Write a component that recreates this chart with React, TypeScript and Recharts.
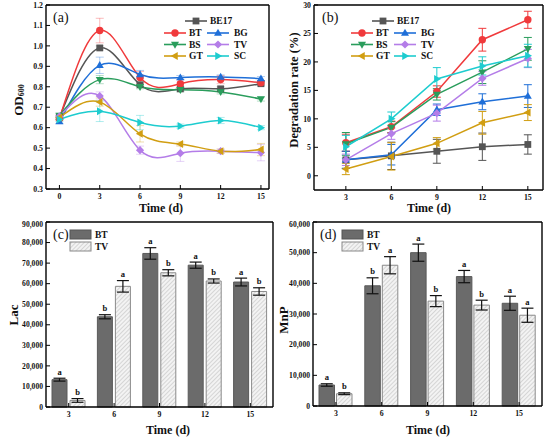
import {
  LineChart,
  Line,
  BarChart,
  Bar,
  XAxis,
  YAxis,
  ErrorBar,
  Label,
  LabelList,
} from "recharts";

const FONT = '"Liberation Serif", "Times New Roman", serif';

// (a) growth, OD600
const odDays = [0, 3, 6, 9, 12, 15];
const odBE17 = [0.65, 0.99, 0.81, 0.79, 0.79, 0.815];
const odBT = [0.645, 1.075, 0.845, 0.815, 0.835, 0.82];
const odBG = [0.63, 0.905, 0.86, 0.845, 0.848, 0.84];
const odBS = [0.66, 0.835, 0.8, 0.785, 0.775, 0.74];
const odTV = [0.655, 0.755, 0.49, 0.475, 0.485, 0.478];
const odGT = [0.65, 0.725, 0.57, 0.52, 0.485, 0.493];
const odSC = [0.64, 0.68, 0.625, 0.608, 0.635, 0.6];
const odBE17Err = [0.01, 0.01, 0.01, 0.01, 0.01, 0.01];
const odBTErr = [0.01, 0.06, 0.03, 0.02, 0.02, 0.01];
const odBGErr = [0.01, 0.04, 0.02, 0.01, 0.01, 0.01];
const odBSErr = [0.01, 0.02, 0.01, 0.01, 0.01, 0.01];
const odTVErr = [0.01, 0.02, 0.02, 0.04, 0.01, 0.04];
const odGTErr = [0.01, 0.02, 0.04, 0.01, 0.01, 0.03];
const odSCErr = [0.01, 0.05, 0.035, 0.01, 0.015, 0.01];
const odTicks = [0.3, 0.4, 0.5, 0.6, 0.7, 0.8, 0.9, 1.0, 1.1, 1.2];

// (b) degradation rate, %
const degDays = [3, 6, 9, 12, 15];
const degBE17 = [2.8, 3.5, 4.3, 5.1, 5.5];
const degBT = [5.8, 8.6, 14.8, 23.9, 27.4];
const degBG = [2.8, 3.7, 11.6, 13.0, 14.0];
const degBS = [5.6, 8.5, 14.3, 18.2, 22.3];
const degTV = [2.8, 7.4, 11.0, 17.1, 20.6];
const degGT = [1.2, 3.4, 5.7, 9.3, 11.1];
const degSC = [5.1, 10.0, 17.0, 19.3, 21.1];
const degBE17Err = [1.5, 2.4, 2.1, 2.4, 1.7];
const degBTErr = [1.5, 1.0, 1.0, 2.0, 1.5];
const degBGErr = [1.5, 1.8, 1.0, 1.4, 2.0];
const degBSErr = [2.0, 1.0, 1.0, 2.0, 2.0];
const degTVErr = [1.0, 1.0, 1.4, 1.2, 1.6];
const degGTErr = [1.0, 2.4, 1.0, 2.0, 1.4];
const degSCErr = [2.0, 1.2, 2.0, 1.6, 2.0];
const degTicks = [0, 5, 10, 15, 20, 25, 30];

// (c) Lac and (d) MnP activity
const enzDays = ["3", "6", "9", "12", "15"];
const lacBT = [13300, 43900, 74700, 69000, 60800];
const lacBTErr = [700, 1000, 2800, 1500, 1900];
const lacTV = [3200, 58700, 65300, 61300, 56200];
const lacTVErr = [900, 2800, 1500, 1000, 1800];
const lacBTSig = ["a", "b", "a", "a", "a"];
const lacTVSig = ["b", "a", "b", "b", "b"];
const lacTicks = [0, 10000, 20000, 30000, 40000, 50000, 60000, 70000, 80000, 90000];

const mnpBT = [6850, 39200, 50000, 42200, 33500];
const mnpBTErr = [400, 2600, 2800, 2000, 2300];
const mnpTV = [4000, 45900, 34200, 32900, 29600];
const mnpTVErr = [300, 2800, 1800, 1600, 2300];
const mnpBTSig = ["a", "b", "a", "a", "a"];
const mnpTVSig = ["b", "a", "b", "b", "a"];
const mnpTicks = [0, 10000, 20000, 30000, 40000, 50000, 60000];

const strains = [
  { key: "BE17", color: "#555555", shape: "square" },
  { key: "BT", color: "#f03a3c", shape: "circle" },
  { key: "BG", color: "#1f6fd8", shape: "up" },
  { key: "BS", color: "#2a9d5c", shape: "down" },
  { key: "TV", color: "#b47de8", shape: "diamond" },
  { key: "GT", color: "#d19e12", shape: "left" },
  { key: "SC", color: "#1dcccf", shape: "right" },
];

const odLookup: Record<string, number[][]> = {
  BE17: [odBE17, odBE17Err],
  BT: [odBT, odBTErr],
  BG: [odBG, odBGErr],
  BS: [odBS, odBSErr],
  TV: [odTV, odTVErr],
  GT: [odGT, odGTErr],
  SC: [odSC, odSCErr],
};
const degLookup: Record<string, number[][]> = {
  BE17: [degBE17, degBE17Err],
  BT: [degBT, degBTErr],
  BG: [degBG, degBGErr],
  BS: [degBS, degBSErr],
  TV: [degTV, degTVErr],
  GT: [degGT, degGTErr],
  SC: [degSC, degSCErr],
};

function buildRows(days: number[], lookup: Record<string, number[][]>) {
  return days.map((d, i) => {
    const row: Record<string, number> = { day: d };
    Object.keys(lookup).forEach((k) => {
      row[k] = lookup[k][0][i];
      row[k + "_e"] = lookup[k][1][i];
    });
    return row;
  });
}

const odRows = buildRows(odDays, odLookup);
const degRows = buildRows(degDays, degLookup);

const lacRows = enzDays.map((d, i) => ({
  day: d,
  bt: lacBT[i],
  btErr: lacBTErr[i],
  btSig: lacBTSig[i],
  tv: lacTV[i],
  tvErr: lacTVErr[i],
  tvSig: lacTVSig[i],
}));
const mnpRows = enzDays.map((d, i) => ({
  day: d,
  bt: mnpBT[i],
  btErr: mnpBTErr[i],
  btSig: mnpBTSig[i],
  tv: mnpTV[i],
  tvErr: mnpTVErr[i],
  tvSig: mnpTVSig[i],
}));

const tickStyle = { fontFamily: FONT, fontSize: 7.8, fontWeight: "bold", fill: "#111" };
const axisLine = { stroke: "#000", strokeWidth: 1.4 };
const tickLine = { stroke: "#000", strokeWidth: 1 };
const titleStyle = { fontFamily: FONT, fontSize: 12, fontWeight: "bold", fill: "#111" };

function Marker({ cx, cy, shape, color }: any) {
  const s = 3.4;
  switch (shape) {
    case "square":
      return <rect x={cx - s} y={cy - s} width={2 * s} height={2 * s} fill={color} />;
    case "circle":
      return <circle cx={cx} cy={cy} r={s + 0.3} fill={color} />;
    case "up":
      return <polygon points={`${cx},${cy - s - 0.8} ${cx + s + 0.6},${cy + s * 0.8} ${cx - s - 0.6},${cy + s * 0.8}`} fill={color} />;
    case "down":
      return <polygon points={`${cx},${cy + s + 0.8} ${cx + s + 0.6},${cy - s * 0.8} ${cx - s - 0.6},${cy - s * 0.8}`} fill={color} />;
    case "left":
      return <polygon points={`${cx - s - 0.8},${cy} ${cx + s * 0.8},${cy - s - 0.6} ${cx + s * 0.8},${cy + s + 0.6}`} fill={color} />;
    case "right":
      return <polygon points={`${cx + s + 0.8},${cy} ${cx - s * 0.8},${cy - s - 0.6} ${cx - s * 0.8},${cy + s + 0.6}`} fill={color} />;
    default:
      return <polygon points={`${cx},${cy - s - 0.7} ${cx + s + 0.7},${cy} ${cx},${cy + s + 0.7} ${cx - s - 0.7},${cy}`} fill={color} />;
  }
}

const overlay: React.CSSProperties = { position: "absolute", left: 0, top: 0, pointerEvents: "none" };

// legend for the line panels; x positions are relative to the panel
function StrainLegend({ tag, tagX, x0 }: { tag: string; tagX: number; x0: number }) {
  const rows = [21, 33, 44.5, 56];
  const item = (s: any, lx: number, y: number, tx: number) => (
    <g key={s.key}>
      <line x1={lx} x2={lx + 22} y1={y} y2={y} stroke={s.color} strokeWidth={1.6} />
      <Marker cx={lx + 11} cy={y} shape={s.shape} color={s.color} />
      <text x={tx} y={y} dominantBaseline="central" style={{ ...titleStyle, fontSize: 9.5 }}>
        {s.key}
      </text>
    </g>
  );
  return (
    <svg width={275} height={70} style={overlay}>
      <text x={tagX} y={22} style={{ fontFamily: FONT, fontSize: 14, fill: "#111" }}>
        {tag}
      </text>
      {item(strains[0], x0 + 21, rows[0], x0 + 46)}
      {item(strains[1], x0, rows[1], x0 + 25)}
      {item(strains[2], x0 + 43, rows[1], x0 + 70)}
      {item(strains[3], x0, rows[2], x0 + 25)}
      {item(strains[4], x0 + 43, rows[2], x0 + 70)}
      {item(strains[5], x0, rows[3], x0 + 25)}
      {item(strains[6], x0 + 43, rows[3], x0 + 70)}
    </svg>
  );
}

function BarLegend({ tag, tagX, x0, hatch }: { tag: string; tagX: number; x0: number; hatch: string }) {
  return (
    <svg width={275} height={40} style={overlay}>
      <defs>
        <pattern id={hatch + "L"} width="3" height="3" patternUnits="userSpaceOnUse" patternTransform="rotate(45)">
          <rect width="3" height="3" fill="#f3f3f3" />
          <line x1="0" y1="0" x2="0" y2="3" stroke="#b8b8b8" strokeWidth="1" />
        </pattern>
      </defs>
      <text x={tagX} y={19} style={{ fontFamily: FONT, fontSize: 14, fill: "#111" }}>
        {tag}
      </text>
      <rect x={x0} y={10} width={21} height={9} fill="#6b6b6b" stroke="#555" />
      <rect x={x0} y={22} width={21} height={9} fill={`url(#${hatch}L)`} stroke="#888" />
      <text x={x0 + 25} y={15} dominantBaseline="central" style={{ ...titleStyle, fontSize: 9.5 }}>
        BT
      </text>
      <text x={x0 + 25} y={27} dominantBaseline="central" style={{ ...titleStyle, fontSize: 9.5 }}>
        TV
      </text>
    </svg>
  );
}

const sigLabel = (vals: number[], errs: number[]) => (props: any) => {
  const vb = props.viewBox || {};
  const x = props.x ?? vb.x;
  const y = props.y ?? vb.y;
  const width = props.width ?? vb.width;
  const height = props.height ?? vb.height;
  const i = props.index;
  if (x == null || y == null || i == null) return null;
  const top = y - (errs[i] * height) / vals[i];
  return (
    <text x={x + width / 2} y={top - 3.5} textAnchor="middle" style={{ ...titleStyle, fontSize: 8.5 }}>
      {props.value}
    </text>
  );
};

function ODPanel() {
  return (
    <div style={{ position: "relative", width: 275, height: 220 }}>
      <LineChart width={275} height={220} data={odRows} margin={{ top: 4, right: 5, bottom: 0, left: 0 }}>
        <XAxis
          dataKey="day"
          type="number"
          domain={[-1, 15.6]}
          ticks={odDays}
          allowDataOverflow
          height={31}
          tickSize={-4}
          tickMargin={8}
          tick={tickStyle}
          axisLine={axisLine}
          tickLine={tickLine}
        >
          <Label content={() => <text x={161} y={212} textAnchor="middle" style={titleStyle}>Time (d)</text>} />
        </XAxis>
        <XAxis xAxisId="top" orientation="top" dataKey="day" type="number" domain={[-1, 15.6]} allowDataOverflow height={1} tick={false} tickLine={false} axisLine={axisLine} />
        <YAxis
          type="number"
          domain={[0.3, 1.2]}
          ticks={odTicks}
          allowDataOverflow
          width={46}
          tickSize={-4}
          tickMargin={7}
          tick={tickStyle}
          tickFormatter={(v: number) => v.toFixed(1)}
          axisLine={axisLine}
          tickLine={tickLine}
        >
          <Label
            content={() => (
              <text x={18} y={100} transform="rotate(-90, 18, 100)" textAnchor="middle" dominantBaseline="central" style={{ ...titleStyle, fontSize: 13 }}>
                OD<tspan fontSize={8} dy={3}>600</tspan>
              </text>
            )}
          />
        </YAxis>
        <YAxis yAxisId="right" orientation="right" type="number" domain={[0.3, 1.2]} allowDataOverflow width={1} tick={false} tickLine={false} axisLine={axisLine} />
        {strains.map((s) => (
          <Line
            key={s.key}
            type="natural"
            dataKey={s.key}
            stroke={s.color}
            strokeWidth={1.5}
            isAnimationActive={false}
            dot={(p: any) => <Marker key={`${s.key}-${p.index}`} cx={p.cx} cy={p.cy} shape={s.shape} color={s.color} />}
            activeDot={false}
          >
            <ErrorBar dataKey={s.key + "_e"} width={4} stroke={s.color} strokeOpacity={0.35} strokeWidth={1} />
          </Line>
        ))}
      </LineChart>
      <StrainLegend tag="(a)" tagX={53} x0={164} />
    </div>
  );
}

function DegPanel() {
  return (
    <div style={{ position: "relative", width: 275, height: 220 }}>
      <LineChart width={275} height={220} data={degRows} margin={{ top: 4, right: 6, bottom: 0, left: 0 }}>
        <XAxis
          dataKey="day"
          type="number"
          domain={[0.9, 16]}
          ticks={degDays}
          allowDataOverflow
          height={30}
          tickSize={-4}
          tickMargin={8}
          tick={tickStyle}
          axisLine={axisLine}
          tickLine={tickLine}
        >
          <Label content={() => <text x={154} y={212} textAnchor="middle" style={titleStyle}>Time (d)</text>} />
        </XAxis>
        <XAxis xAxisId="top" orientation="top" dataKey="day" type="number" domain={[0.9, 16]} allowDataOverflow height={1} tick={false} tickLine={false} axisLine={axisLine} />
        <YAxis
          type="number"
          domain={[-2.5, 30]}
          ticks={degTicks}
          allowDataOverflow
          width={39}
          tickSize={-4}
          tickMargin={7}
          tick={tickStyle}
          axisLine={axisLine}
          tickLine={tickLine}
        >
          <Label
            content={() => (
              <text x={19} y={90} transform="rotate(-90, 19, 90)" textAnchor="middle" dominantBaseline="central" style={{ ...titleStyle, fontSize: 12.5 }}>
                Degradation rate (%)
              </text>
            )}
          />
        </YAxis>
        <YAxis yAxisId="right" orientation="right" type="number" domain={[-2.5, 30]} allowDataOverflow width={1} tick={false} tickLine={false} axisLine={axisLine} />
        {strains.map((s) => (
          <Line
            key={s.key}
            type="linear"
            dataKey={s.key}
            stroke={s.color}
            strokeWidth={1.5}
            isAnimationActive={false}
            dot={(p: any) => <Marker key={`${s.key}-${p.index}`} cx={p.cx} cy={p.cy} shape={s.shape} color={s.color} />}
            activeDot={false}
          >
            <ErrorBar dataKey={s.key + "_e"} width={4} stroke={s.color} strokeWidth={1} />
          </Line>
        ))}
      </LineChart>
      <StrainLegend tag="(b)" tagX={47} x0={76} />
    </div>
  );
}

function EnzymePanel({
  rows,
  btVals,
  btErrs,
  tvVals,
  tvErrs,
  ticks,
  yWidth,
  right,
  xHeight,
  tag,
  tagX,
  legendX,
  hatch,
  yTitle,
  yTitleX,
  yTitleY,
  xTitleX,
  barSize,
  barGap,
}: any) {
  const max = ticks[ticks.length - 1];
  return (
    <div style={{ position: "relative", width: 275, height: 220 }}>
      <BarChart
        width={275}
        height={220}
        data={rows}
        margin={{ top: 1, right, bottom: 0, left: 0 }}
        barGap={barGap}
        barCategoryGap="14%"
      >
        <defs>
          <pattern id={hatch} width="3" height="3" patternUnits="userSpaceOnUse" patternTransform="rotate(45)">
            <rect width="3" height="3" fill="#f3f3f3" />
            <line x1="0" y1="0" x2="0" y2="3" stroke="#b8b8b8" strokeWidth="1" />
          </pattern>
        </defs>
        <XAxis
          dataKey="day"
          height={xHeight}
          tickSize={-4}
          tickMargin={8}
          tick={tickStyle}
          axisLine={axisLine}
          tickLine={tickLine}
        >
          <Label content={() => <text x={xTitleX} y={214} textAnchor="middle" style={titleStyle}>Time (d)</text>} />
        </XAxis>
        <XAxis xAxisId="top" orientation="top" dataKey="day" height={1} tick={false} tickLine={false} axisLine={axisLine} />
        <YAxis
          type="number"
          domain={[0, max]}
          ticks={ticks}
          width={yWidth}
          tickSize={-4}
          tickMargin={7}
          tick={{ ...tickStyle, fontSize: 7.6 }}
          tickFormatter={(v: number) => v.toLocaleString("en-US")}
          axisLine={axisLine}
          tickLine={tickLine}
        >
          <Label
            content={() => (
              <text x={yTitleX} y={yTitleY} transform={`rotate(-90, ${yTitleX}, ${yTitleY})`} textAnchor="middle" dominantBaseline="central" style={{ ...titleStyle, fontSize: 13 }}>
                {yTitle}
              </text>
            )}
          />
        </YAxis>
        <YAxis yAxisId="right" orientation="right" type="number" domain={[0, max]} width={1} tick={false} tickLine={false} axisLine={axisLine} />
        <Bar dataKey="bt" fill="#6b6b6b" stroke="#5a5a5a" barSize={barSize} isAnimationActive={false}>
          <ErrorBar dataKey="btErr" width={6} stroke="#111" strokeWidth={1.2} />
          <LabelList dataKey="btSig" content={sigLabel(btVals, btErrs)} />
        </Bar>
        <Bar dataKey="tv" fill={`url(#${hatch})`} stroke="#8a8a8a" barSize={barSize} isAnimationActive={false}>
          <ErrorBar dataKey="tvErr" width={6} stroke="#111" strokeWidth={1.2} />
          <LabelList dataKey="tvSig" content={sigLabel(tvVals, tvErrs)} />
        </Bar>
      </BarChart>
      <BarLegend tag={tag} tagX={tagX} x0={legendX} hatch={hatch} />
    </div>
  );
}

export default function App() {
  return (
    <div style={{ position: "absolute", left: 0, top: 0, width: 550, height: 440, background: "#fff" }}>
      <div style={{ position: "absolute", left: 0, top: 0 }}>
        <ODPanel />
      </div>
      <div style={{ position: "absolute", left: 275, top: 0 }}>
        <DegPanel />
      </div>
      <div style={{ position: "absolute", left: 0, top: 220 }}>
        <EnzymePanel
          rows={lacRows}
          btVals={lacBT}
          btErrs={lacBTErr}
          tvVals={lacTV}
          tvErrs={lacTVErr}
          ticks={lacTicks}
          yWidth={46}
          right={1}
          xHeight={33}
          tag="(c)"
          tagX={53}
          legendX={70}
          hatch="hatchC"
          yTitle="Lac"
          yTitleX={13}
          yTitleY={95}
          xTitleX={168}
          barSize={15}
          barGap={3}
        />
      </div>
      <div style={{ position: "absolute", left: 275, top: 220 }}>
        <EnzymePanel
          rows={mnpRows}
          btVals={mnpBT}
          btErrs={mnpBTErr}
          tvVals={mnpTV}
          tvErrs={mnpTVErr}
          ticks={mnpTicks}
          yWidth={38}
          right={7}
          xHeight={34}
          tag="(d)"
          tagX={45}
          legendX={67}
          hatch="hatchD"
          yTitle="MnP"
          yTitleX={8}
          yTitleY={100}
          xTitleX={153}
          barSize={15.5}
          barGap={2}
        />
      </div>
    </div>
  );
}
